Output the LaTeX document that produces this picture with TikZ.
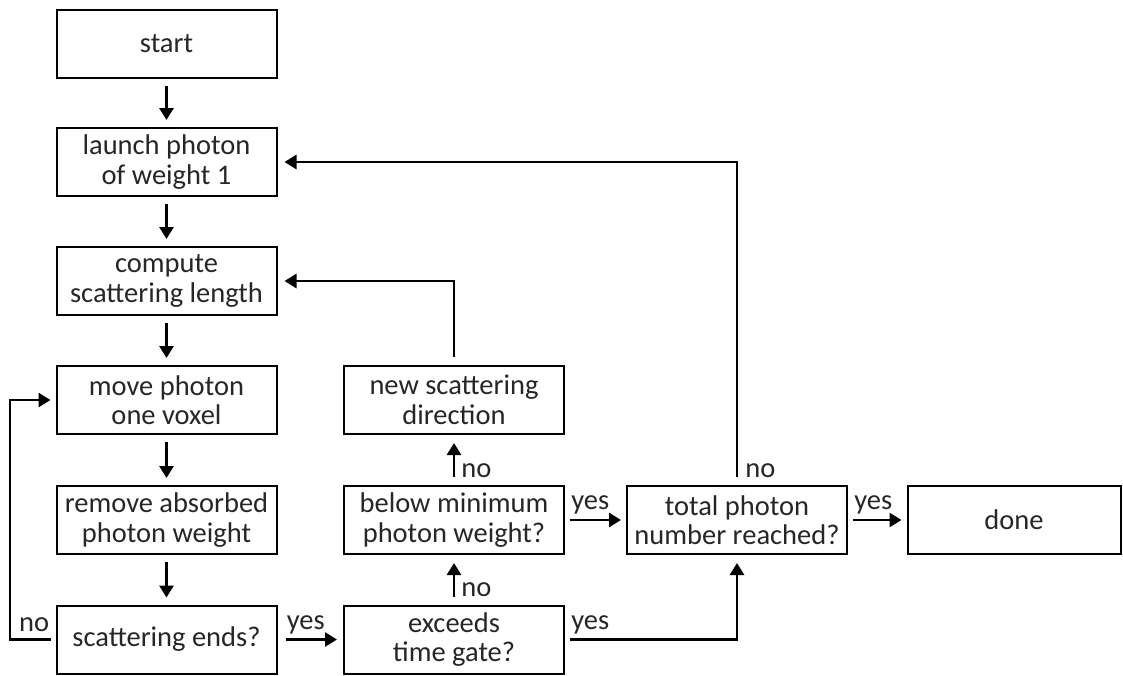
\documentclass[tikz,border=0pt]{standalone}
\usepackage{fontspec}
\setmainfont{Carlito}
\usepackage{tikz}
\usetikzlibrary{arrows.meta}
\definecolor{txtgray}{HTML}{262626}

\begin{document}
\begin{tikzpicture}[x=1pt, y=-1pt,
    box/.style={draw, line width=2pt, minimum width=220pt, minimum height=68pt,
                align=center, inner sep=2pt, text=txtgray,
                font=\fontsize{28.5}{29.5}\selectfont},
    lbl/.style={inner sep=0pt, text=txtgray, font=\fontsize{28.5}{29.5}\selectfont},
    flow/.style={-{Triangle[width=14pt, length=12pt]}, line width=2.8pt,
                 shorten <=7pt, shorten >=7pt}]
    \useasboundingbox (0,0) rectangle (1123,675);

    % left column
    \node[box] (start)    at (166.5,43.5) {start};
    \node[box] (launch)   at (166.5,162)  {launch photon\\of weight 1};
    \node[box] (compute)  at (166.5,281)  {compute\\scattering length};
    \node[box] (move)     at (166.5,400)  {move photon\\one voxel};
    \node[box] (remove)   at (166.5,520)  {remove absorbed\\photon weight};
    \node[box] (scat)     at (166.5,639.5){scattering ends?};

    % middle column
    \node[box] (newdir)   at (454,400)    {new scattering\\direction};
    \node[box] (below)    at (454,520)    {below minimum\\photon weight?};
    \node[box] (exceeds)  at (454,639.5)  {exceeds\\time gate?};

    % right
    \node[box] (total)    at (737,520)    {total photon\\number reached?};
    \node[box, minimum width=213pt] (done) at (1014,520) {done};

    \draw[flow] (start)   -- (launch);
    \draw[flow] (launch)  -- (compute);
    \draw[flow] (compute) -- (move);
    \draw[flow] (move)    -- (remove);
    \draw[flow] (remove)  -- (scat);

    \coordinate (loopx) at (10,0);
    \draw[flow, shorten <=5pt, shorten >=5pt] (scat.west)
        node[lbl, anchor=base east, xshift=-5pt, yshift=8pt] {no}
        -- (scat.west -| loopx) -- (move.west -| loopx) -- (move.west);

    \draw[flow, shorten <=8pt, shorten >=6pt] (scat.east)
        node[lbl, anchor=base west, xshift=8pt, yshift=10pt] {yes} -- (exceeds.west);
    \draw[flow, shorten <=5pt, shorten >=8pt] (exceeds.east)
        node[lbl, anchor=base west, xshift=5pt, yshift=10pt] {yes} -| (total.south);
    \draw[flow, shorten <=8pt, shorten >=8pt] (exceeds.north)
        node[lbl, anchor=base west, xshift=6pt, yshift=8pt] {no} -- (below.south);
    \draw[flow, shorten <=8pt, shorten >=8pt] (below.north)
        node[lbl, anchor=base west, xshift=6pt, yshift=8pt] {no} -- (newdir.south);
    \draw[flow, shorten <=8pt, shorten >=7pt] (newdir.north) |- (compute.east);
    \draw[flow, shorten <=5pt, shorten >=5pt] (below.east)
        node[lbl, anchor=base west, xshift=5pt, yshift=11pt] {yes} -- (total.west);
    \draw[flow, shorten <=8pt, shorten >=7pt] (total.north)
        node[lbl, anchor=base west, xshift=7pt, yshift=8pt] {no} |- (launch.east);
    \draw[flow, shorten <=5pt, shorten >=5pt] (total.east)
        node[lbl, anchor=base west, xshift=5pt, yshift=11pt] {yes} -- (done.west);
\end{tikzpicture}
\end{document}
